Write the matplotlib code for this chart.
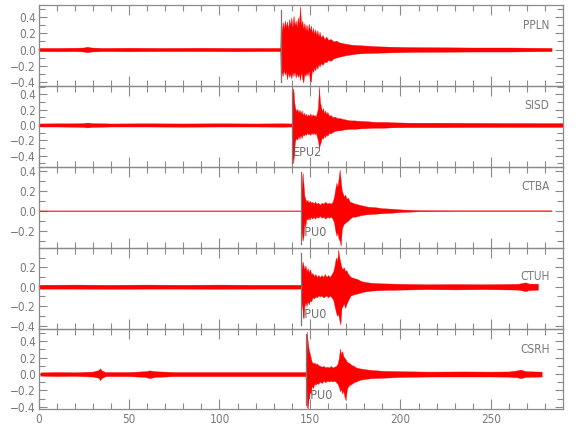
import matplotlib
matplotlib.use("Agg")
import matplotlib.pyplot as plt
from matplotlib import font_manager as fm
from matplotlib.ticker import MultipleLocator, FuncFormatter, FixedLocator
import matplotlib.transforms as mtransforms

# ---------------- data ----------------
stations = ["PPLN", "SISD", "CTBA", "CTUH", "CSRH"]
pick_labels = ["IPU1", "EPU2", "IPU0", "IPU0", "IPU0"]
pick_times = [133.8, 139.9, 145.0, 145.0, 148.0]
x_ticks = [0, 50, 100, 150, 200, 250]
y_ticks = [-0.4, -0.2, 0.0, 0.2, 0.4]

# envelope of each trace: (time s, upper amplitude, lower amplitude)
ppln_env = [
    (0, 0.02, -0.02), (10, 0.02, -0.022), (20, 0.022, -0.02), (25, 0.025, -0.025),
    (27, 0.035, -0.033), (29, 0.025, -0.025), (35, 0.02, -0.02), (50, 0.022, -0.022),
    (70, 0.02, -0.02), (90, 0.022, -0.02), (110, 0.02, -0.022), (125, 0.02, -0.02),
    (133.6, 0.02, -0.02),
    (133.8, 0.33, -0.39), (134.3, 0.22, -0.28), (134.9, 0.34, -0.33), (135.5, 0.26, -0.25),
    (136.1, 0.36, -0.31), (136.7, 0.28, -0.27), (137.3, 0.35, -0.37), (137.9, 0.25, -0.28),
    (138.5, 0.38, -0.34), (139.1, 0.30, -0.30), (139.7, 0.40, -0.36), (140.3, 0.27, -0.28),
    (140.9, 0.42, -0.33), (141.5, 0.30, -0.26), (142.1, 0.36, -0.35), (142.7, 0.28, -0.29),
    (143.3, 0.40, -0.34), (143.9, 0.31, -0.30), (144.5, 0.54, -0.38), (145.1, 0.30, -0.27),
    (145.7, 0.36, -0.36), (146.3, 0.26, -0.41), (146.9, 0.33, -0.30), (147.5, 0.24, -0.33),
    (148.1, 0.31, -0.28), (148.7, 0.22, -0.32), (149.3, 0.32, -0.26), (149.9, 0.24, -0.38),
    (150.5, 0.30, -0.40), (151.1, 0.20, -0.25), (151.7, 0.27, -0.28), (152.3, 0.19, -0.22),
    (152.9, 0.25, -0.26), (153.5, 0.18, -0.20), (154.1, 0.24, -0.24), (154.7, 0.16, -0.18),
    (155.3, 0.22, -0.21), (156.0, 0.15, -0.17), (157.0, 0.18, -0.19), (158.0, 0.13, -0.15),
    (159.0, 0.16, -0.16), (160.0, 0.12, -0.13), (161.5, 0.13, -0.14), (163.0, 0.10, -0.11),
    (164.5, 0.11, -0.10), (166.0, 0.09, -0.09), (168.0, 0.08, -0.08), (170.0, 0.07, -0.07),
    (173.0, 0.06, -0.06), (176.0, 0.055, -0.05), (180.0, 0.05, -0.045), (187.0, 0.04, -0.04),
    (195.0, 0.035, -0.035), (205.0, 0.03, -0.03), (220.0, 0.028, -0.028), (240.0, 0.025, -0.025),
    (260.0, 0.025, -0.025), (283.5, 0.02, -0.02),
]

sisd_env = [
    (0, 0.02, -0.02), (10, 0.022, -0.02), (20, 0.022, -0.022), (25, 0.025, -0.025),
    (27, 0.032, -0.032), (29, 0.025, -0.025), (40, 0.02, -0.02), (60, 0.022, -0.02),
    (80, 0.02, -0.022), (100, 0.022, -0.02), (120, 0.02, -0.02), (135, 0.022, -0.022),
    (139.8, 0.02, -0.02),
    (139.9, 0.05, -0.05), (140.3, 0.42, -0.41), (140.8, 0.48, -0.50), (141.3, 0.30, -0.30),
    (141.8, 0.22, -0.20), (142.4, 0.18, -0.17), (143.0, 0.21, -0.19), (143.6, 0.16, -0.14),
    (144.2, 0.20, -0.18), (144.8, 0.15, -0.13), (145.4, 0.19, -0.17), (146.0, 0.13, -0.12),
    (146.6, 0.16, -0.14), (147.2, 0.12, -0.11), (147.8, 0.15, -0.13), (148.4, 0.11, -0.10),
    (149.0, 0.14, -0.12), (149.6, 0.12, -0.11), (150.2, 0.15, -0.13), (150.8, 0.11, -0.10),
    (151.4, 0.14, -0.12), (152.0, 0.12, -0.10), (152.6, 0.13, -0.12), (153.2, 0.11, -0.10),
    (153.8, 0.16, -0.15), (154.4, 0.22, -0.20), (155.0, 0.50, -0.30), (155.5, 0.30, -0.25),
    (156.0, 0.25, -0.22), (156.6, 0.18, -0.16), (157.2, 0.22, -0.18), (157.8, 0.15, -0.13),
    (158.4, 0.19, -0.16), (159.0, 0.14, -0.12), (159.6, 0.17, -0.14), (160.5, 0.12, -0.10),
    (161.5, 0.13, -0.11), (162.5, 0.10, -0.09), (163.5, 0.11, -0.08), (165.0, 0.09, -0.07),
    (166.5, 0.09, -0.07), (168.0, 0.08, -0.06), (170.0, 0.07, -0.055), (172.0, 0.06, -0.05),
    (174.5, 0.06, -0.05), (177.0, 0.055, -0.045), (181.0, 0.05, -0.04), (186.0, 0.04, -0.035),
    (191.0, 0.04, -0.035), (196.0, 0.035, -0.03), (205.0, 0.03, -0.028), (220.0, 0.03, -0.028),
    (240.0, 0.028, -0.026), (260.0, 0.026, -0.025), (280.0, 0.025, -0.025), (289.8, 0.025, -0.025),
]

ctba_env = [
    (0, 0.003, -0.003), (50, 0.003, -0.003), (100, 0.003, -0.003), (144.9, 0.003, -0.003),
    (145.0, 0.01, -0.01), (145.4, 0.25, -0.22), (145.9, 0.38, -0.30), (146.4, 0.27, -0.26),
    (146.9, 0.15, -0.12), (147.4, 0.12, -0.16), (148.0, 0.09, -0.08), (148.6, 0.11, -0.09),
    (149.2, 0.08, -0.07), (149.8, 0.10, -0.09), (150.5, 0.08, -0.06), (151.2, 0.09, -0.08),
    (152.0, 0.07, -0.06), (152.8, 0.09, -0.08), (153.6, 0.07, -0.06), (154.5, 0.08, -0.07),
    (155.5, 0.06, -0.05), (156.5, 0.08, -0.07), (157.5, 0.07, -0.06), (158.5, 0.09, -0.08),
    (159.5, 0.07, -0.06), (160.5, 0.08, -0.07), (161.5, 0.07, -0.06), (162.5, 0.09, -0.08),
    (163.3, 0.14, -0.12), (164.0, 0.22, -0.20), (164.6, 0.28, -0.25), (165.2, 0.24, -0.22),
    (165.8, 0.32, -0.28), (166.4, 0.41, -0.30), (167.0, 0.30, -0.35), (167.6, 0.20, -0.18),
    (168.2, 0.17, -0.15), (168.8, 0.14, -0.13), (169.5, 0.16, -0.12), (170.2, 0.12, -0.11),
    (171.0, 0.13, -0.10), (172.0, 0.09, -0.08), (173.5, 0.08, -0.06), (175.0, 0.07, -0.06),
    (177.0, 0.06, -0.05), (179.5, 0.05, -0.04), (182.0, 0.04, -0.035), (186.0, 0.035, -0.03),
    (190.0, 0.025, -0.025), (195.0, 0.02, -0.02), (201.0, 0.012, -0.012), (210.0, 0.006, -0.006),
    (230.0, 0.004, -0.004), (260.0, 0.004, -0.004), (283.5, 0.004, -0.004),
]

ctuh_env = [
    (0, 0.02, -0.02), (20, 0.022, -0.02), (40, 0.02, -0.022), (60, 0.022, -0.02),
    (80, 0.02, -0.02), (100, 0.022, -0.022), (120, 0.02, -0.02), (144.9, 0.02, -0.02),
    (145.0, 0.03, -0.03), (145.4, 0.20, -0.18), (145.9, 0.26, -0.24), (146.4, 0.22, -0.33),
    (146.9, 0.18, -0.20), (147.5, 0.22, -0.16), (148.1, 0.16, -0.20), (148.7, 0.19, -0.15),
    (149.3, 0.15, -0.18), (150.0, 0.18, -0.14), (150.7, 0.13, -0.15), (151.4, 0.14, -0.11),
    (152.2, 0.11, -0.12), (153.0, 0.13, -0.10), (153.8, 0.10, -0.11), (154.6, 0.12, -0.09),
    (155.5, 0.10, -0.10), (156.4, 0.12, -0.09), (157.3, 0.10, -0.11), (158.2, 0.13, -0.10),
    (159.1, 0.10, -0.09), (160.0, 0.12, -0.11), (161.0, 0.10, -0.09), (162.0, 0.13, -0.11),
    (162.9, 0.16, -0.14), (163.6, 0.22, -0.20), (164.3, 0.30, -0.26), (165.0, 0.26, -0.30),
    (165.6, 0.38, -0.28), (166.2, 0.30, -0.34), (166.8, 0.25, -0.39), (167.4, 0.20, -0.22),
    (168.0, 0.18, -0.20), (168.7, 0.20, -0.17), (169.4, 0.16, -0.22), (170.1, 0.17, -0.18),
    (170.8, 0.14, -0.15), (171.6, 0.12, -0.12), (172.5, 0.10, -0.09), (174.0, 0.09, -0.08),
    (176.0, 0.08, -0.07), (178.0, 0.06, -0.06), (180.0, 0.05, -0.05), (184.0, 0.04, -0.04),
    (189.0, 0.035, -0.035), (200.0, 0.03, -0.03), (215.0, 0.025, -0.025), (230.0, 0.028, -0.028),
    (245.0, 0.025, -0.025), (258.0, 0.028, -0.028), (265.0, 0.03, -0.03), (269.0, 0.045, -0.045),
    (271.0, 0.032, -0.035), (276.0, 0.03, -0.03),
]

csrh_env = [
    (1, 0.02, -0.02), (10, 0.025, -0.025), (20, 0.022, -0.022), (30, 0.03, -0.03),
    (33.2, 0.05, -0.045), (34.0, 0.07, -0.075), (34.8, 0.045, -0.05), (37, 0.025, -0.025),
    (50, 0.025, -0.025), (59, 0.035, -0.035), (61.5, 0.045, -0.05), (64, 0.035, -0.035),
    (75, 0.025, -0.025), (90, 0.025, -0.025), (110, 0.025, -0.025), (130, 0.025, -0.025),
    (147.9, 0.025, -0.025),
    (148.0, 0.05, -0.05), (148.3, 0.52, -0.40), (148.8, 0.38, -0.42), (149.3, 0.30, -0.28),
    (149.8, 0.26, -0.22), (150.4, 0.20, -0.24), (151.0, 0.15, -0.14), (151.7, 0.13, -0.17),
    (152.4, 0.14, -0.12), (153.1, 0.12, -0.13), (153.8, 0.13, -0.11), (154.6, 0.11, -0.12),
    (155.5, 0.10, -0.09), (156.5, 0.09, -0.11), (157.5, 0.10, -0.08), (158.5, 0.08, -0.10),
    (159.5, 0.09, -0.08), (160.5, 0.08, -0.09), (161.5, 0.10, -0.08), (162.5, 0.08, -0.09),
    (163.5, 0.09, -0.08), (164.5, 0.10, -0.10), (165.3, 0.13, -0.12), (166.0, 0.20, -0.16),
    (166.6, 0.31, -0.21), (167.2, 0.24, -0.18), (167.8, 0.28, -0.24), (168.4, 0.22, -0.20),
    (169.0, 0.20, -0.27), (169.7, 0.18, -0.32), (170.4, 0.15, -0.18), (171.1, 0.14, -0.15),
    (172.0, 0.13, -0.13), (173.0, 0.11, -0.12), (174.2, 0.10, -0.10), (175.5, 0.08, -0.09),
    (177.5, 0.07, -0.07), (180.0, 0.06, -0.06), (184.0, 0.05, -0.05), (190.0, 0.04, -0.045),
    (200.0, 0.035, -0.035), (215.0, 0.03, -0.03), (235.0, 0.032, -0.03), (250.0, 0.03, -0.03),
    (260.0, 0.032, -0.032), (264.5, 0.045, -0.04), (266.5, 0.055, -0.05), (269.0, 0.035, -0.035),
    (278.0, 0.03, -0.03),
]

envelopes = [ppln_env, sisd_env, ctba_env, ctuh_env, csrh_env]

# ---------------- layout / style ----------------
y_limits = [(-0.457, 0.553), (-0.551, 0.504), (-0.376, 0.434), (-0.435, 0.395), (-0.43, 0.55)]
label_y = [0.75, 0.76, 0.76, 0.645, 0.75]
pick_label_y = [0.21, 0.18, 0.19, 0.185, 0.175]

names = {f.name for f in fm.fontManager.ttflist}
font = "Liberation Sans Narrow" if "Liberation Sans Narrow" in names else "DejaVu Sans"
plt.rcParams["font.family"] = [font, "DejaVu Sans"]
plt.rcParams["font.stretch"] = "condensed"

gray = "#8a8a8a"
text_gray = "#7a7a7a"
W, H = 580, 440
left_px, right_px = 38.5, 563.0
bounds_px = [5.0, 86.3, 167.3, 248.3, 329.0, 409.3]

fig = plt.figure(figsize=(W / 100, H / 100), dpi=100)
fig.patch.set_facecolor("white")

def yfmt(v, pos):
    s = "%.1f" % abs(v)
    return ("\u2212" + s) if v < -1e-9 else s

for i in range(5):
    top, bot = bounds_px[i], bounds_px[i + 1]
    ax = fig.add_axes([left_px / W, 1 - bot / H, (right_px - left_px) / W, (bot - top) / H])
    ax.set_facecolor("none")
    t, up, lo = zip(*envelopes[i])
    ax.fill_between(t, lo, up, color="#ff0000", edgecolor="#ff0000", lw=0.25,
                    clip_on=False, zorder=2)
    ax.set_xlim(0, 289.8)
    ax.set_ylim(*y_limits[i])

    # pick marker
    ax.axvline(pick_times[i], ymin=0.05, ymax=0.94, color="#777777", lw=0.9, zorder=3)
    ax.text(pick_times[i] + 0.6, pick_label_y[i], pick_labels[i],
            transform=mtransforms.blended_transform_factory(ax.transData, ax.transAxes),
            ha="left", va="center", fontsize=9, color="#707070", zorder=1)
    # station name
    ax.text(282.3, label_y[i], stations[i],
            transform=mtransforms.blended_transform_factory(ax.transData, ax.transAxes),
            ha="right", va="center", fontsize=8.5, color=text_gray)

    for sp in ax.spines.values():
        sp.set_color(gray)
        sp.set_linewidth(0.9)

    ax.xaxis.set_major_locator(FixedLocator(x_ticks))
    ax.xaxis.set_minor_locator(MultipleLocator(10))
    ax.yaxis.set_major_locator(FixedLocator(y_ticks))
    ax.yaxis.set_minor_locator(MultipleLocator(0.1))
    ax.yaxis.set_major_formatter(FuncFormatter(yfmt))
    ax.tick_params(axis="both", which="both", direction="in", top=True, right=True,
                   color=gray, labelcolor=text_gray, width=0.8, labelsize=8.5)
    ax.tick_params(axis="both", which="major", length=7, pad=2)
    ax.tick_params(axis="both", which="minor", length=4)
    ax.tick_params(axis="y", which="major", length=6)
    if i < 4:
        ax.tick_params(axis="x", labelbottom=False)
    else:
        ax.tick_params(axis="x", pad=3)

fig.savefig("out.png", dpi=100, facecolor="white")
